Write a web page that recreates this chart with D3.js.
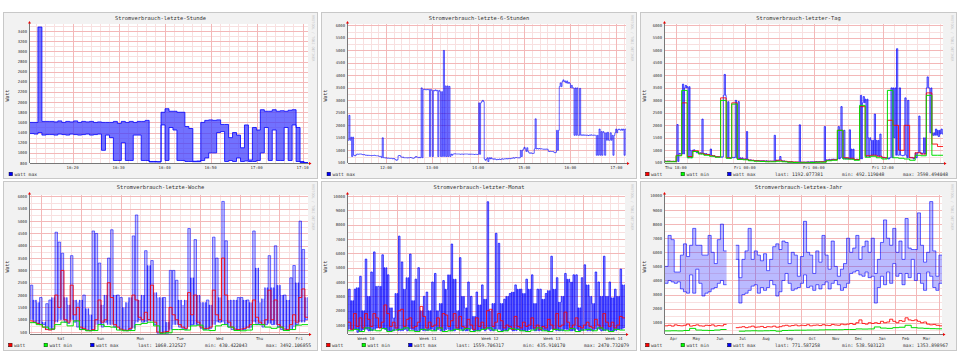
<!DOCTYPE html>
<html><head><meta charset="utf-8">
<script src="https://cdn.jsdelivr.net/npm/d3@7/dist/d3.min.js"></script>
<style>body{margin:0;background:#fff;} svg{display:block;}</style>
</head><body><svg id="c" width="960" height="360"></svg>
<script>
// ---------------- DATA ----------------
const titles = ["Stromverbrauch-letzte-Stunde","Stromverbrauch-letzte-6-Stunden","Stromverbrauch-letzter-Tag",
                "Stromverbrauch-letzte-Woche","Stromverbrauch-letzter-Monat","Stromverbrauch-letztes-Jahr"];
const seriesNames = ["watt","watt min","watt max"];
const axisLabel = "Watt";
const watermark = "RRDTOOL / TOBI OETIKER";

// watt max per time step: [low, high] of the step
const hourMax = [[1380,1600],[1370,1600],[1400,3480],[1350,1620],[1360,1620],
 [1360,1620],[1350,1610],[1370,1630],[1360,1600],[1350,1620],[1370,1610],[1360,1630],[1350,1600],[1360,1620],[1370,1610],[1350,1620],[1360,1600],[1370,1610],
 [1050,1600],[1350,1600],[1300,1600],[850,1620],[850,1580],[1200,1620],[850,1600],[850,1620],[1350,1600],[1350,1620],[850,1620],[850,1640],
 [820,830],[820,830],[820,825],[1550,1800],[850,1870],[1500,1820],[1450,1820],[850,1800],[850,1800],[830,1520],
 [830,1480],[825,835],[825,840],[850,1600],[900,1640],[1000,1650],[1000,1640],[1400,1650],[1420,1560],[830,1560],
 [850,1300],[830,1400],[900,1350],[830,1100],[840,1550],[830,860],[830,1500],[850,1450],[1000,1850],[1500,1820],
 [850,1820],[1450,1850],[850,1820],[850,1830],[1500,1820],[850,1840],[1550,1850],[830,1500],[810,830],[800,810]];

const sixHourMax = [[1400,2400],[750,1530],[780,800],[840,850],[850,850],[820,830],[800,810],[790,800],[780,790],[790,800],
 [780,780],[750,760],[700,1500],[690,700],[680,690],[670,680],[650,670],[600,620],[780,790],[720,730],
 [700,700],[690,700],[700,710],[680,690],[720,750],[700,720],[700,3500],[3430,3450],[3420,3440],[750,3440],
 [750,3400],[3380,3420],[750,3400],[750,3350],[750,5000],[750,3580],[750,3560],[800,850],[850,860],[850,850],
 [840,850],[840,850],[850,850],[840,850],[840,845],[830,840],[830,840],[840,2900],[2950,3000],[600,650],
 [550,700],[650,700],[640,660],[620,640],[630,650],[640,660],[650,660],[650,670],[660,680],[680,700],
 [700,710],[690,700],[750,1000],[1050,1120],[950,1100],[880,900],[870,880],[1050,2260],[1050,1070],[1050,1060],
 [1040,1050],[1040,1050],[950,960],[950,950],[900,920],[1000,1800],[3550,3700],[3750,3820],[3700,3780],[3680,3720],
 [3500,3600],[1600,3500],[1600,3500],[1600,3480],[1600,1620],[1600,1610],[1590,1610],[1600,1620],[1600,1610],[800,1600],
 [800,1850],[800,1750],[800,1700],[1400,1720],[1400,1700],[800,1600],[1700,1850],[1820,1850],[1800,1850],[800,1850]];

const dayMax = [[550,570],[560,570],[550,560],[550,560],[550,2030],[850,880],[850,3650],[3500,3600],[700,3550],[700,1000],
 [950,1020],[900,950],[880,900],[850,2250],[850,870],[820,840],[800,1050],[760,780],[740,750],[730,740],
 [720,740],[3200,4040],[700,2950],[680,700],[700,720],[700,3000],[650,2950],[650,700],[640,660],[620,1750],
 [600,620],[590,600],[580,590],[580,590],[570,580],[570,580],[560,580],[560,570],[560,570],[560,1600],
 [580,600],[600,750],[560,580],[540,550],[530,540],[530,540],[520,530],[520,530],[520,2020],[520,530],
 [520,530],[520,540],[530,540],[530,540],[530,550],[540,550],[540,550],[540,1950],[600,620],[600,640],
 [620,650],[630,650],[650,1950],[700,2750],[650,1800],[650,700],[650,1820],[650,1050],[620,640],[620,650],
 [650,3200],[2900,3150],[750,3050],[750,1500],[800,1400],[800,2450],[780,1400],[760,1650],[700,720],[680,700],
 [650,700],[700,3500],[1500,3500],[800,5070],[800,3500],[780,800],[800,3100],[700,3000],[700,720],[650,700],
 [700,900],[900,2370],[850,900],[850,1500],[3500,3940],[1700,3500],[1600,1700],[1600,1850],[1550,1800],[1650,1850]];
const dayAvg = [560,555,800,2900,750,980,880,830,780,740, 3100,700,2900,650,640,600,580,570,560,560,
 600,560,540,530,520,520,520,530,540,600, 620,1800,700,680,630,2750,780,800,760,700,
 2200,2000,1000,2000,700,900,850,3300,1250,1150];
const dayMin = [540,540,780,3400,700,950,850,800,760,720, 3000,680,2850,630,620,580,560,550,540,540,
 560,540,520,510,500,500,510,520,520,580, 600,1800,650,640,600,2800,720,760,700,650,
 3400,700,680,650,600,800,780,3200,800,800];

const weekMax = [[1000,2400],[900,1800],[850,1700],[800,1900],[800,900],[600,1650],[580,1800],[600,1900],[900,4550],[1000,4150],
 [1000,3700],[900,1900],[850,1600],[1000,3600],[900,1800],[700,1700],[600,1800],[600,2000],[560,1450],[550,1200],
 [550,4600],[800,4500],[800,3300],[700,1600],[900,2000],[800,3500],[800,4650],[700,2000],[650,2000],[580,1900],
 [560,1500],[550,1700],[600,1900],[650,4400],[900,5250],[1000,1800],[900,2000],[900,3800],[1000,3200],[950,3400],
 [800,2100],[450,1900],[430,1900],[450,1900],[450,900],[600,3000],[800,3000],[800,2600],[700,1800],[650,1600],
 [600,1800],[700,4700],[800,2700],[800,4250],[800,2000],[650,1700],[600,1700],[600,1800],[650,1600],[800,4350],
 [900,3500],[900,1900],[900,5800],[800,4200],[700,1800],[600,1800],[580,1800],[560,1900],[580,1900],[600,1800],
 [650,1800],[700,1700],[900,4600],[800,3100],[800,1700],[700,1850],[800,2300],[850,3600],[800,2300],[800,4000],
 [700,2400],[600,2000],[560,2000],[560,1800],[600,2700],[700,3200],[800,2500],[900,5000],[900,3850],[1000,1900]];
const weekAvg = [950,900,850,800,700,600,580,620,2000,1500, 3000,1000,900,2400,1200,1500,700,650,580,560,
 600,1000,1800,900,1000,2500,1900,800,700,620, 580,570,650,2000,1800,1100,1000,1300,1000,2400,
 900,500,480,500,520,1500,1200,1000,800,700, 650,2100,1200,2000,900,700,650,650,700,2200,
 1200,1000,3500,2000,900,700,620,600,620,650, 700,800,1800,1100,900,800,1000,2200,1000,1800,
 800,700,620,600,800,1200,900,1900,2250,1100];
const weekMin = [880,800,700,620,800,900,750,950,600,550, 560,800,720,700,580,550,560,800,850,900,
 750,450,470,600,600,580,750,780,580,560, 750,800,700,560,550,580,800,800,700,650, 700,560,600,780,800];

const monthMax = [[700,3500],[700,2700],[700,3500],[500,3600],[600,4400],[700,2000],[700,5600],[600,3000],[600,4700],[700,6100],
 [800,3700],[800,3700],[800,5900],[700,5000],[600,4500],[600,2200],[600,1500],[700,3200],[600,7200],[600,5400],
 [700,3500],[600,4300],[700,5950],[700,2700],[600,4200],[600,5000],[700,2000],[600,3000],[600,3300],[700,2000],
 [700,4000],[600,4600],[700,2000],[600,2500],[600,4100],[700,3500],[700,4500],[600,6650],[600,4200],[700,2000],
 [700,5700],[600,3000],[600,2200],[600,4000],[700,3000],[600,1600],[600,3300],[600,2400],[700,3800],[600,2800],
 [700,9600],[600,2000],[600,2500],[700,7400],[700,6700],[600,2500],[600,2800],[600,3000],[700,3200],[600,3300],
 [600,3800],[700,3500],[600,3500],[600,3200],[600,4200],[700,3500],[700,4500],[600,2500],[600,3500],[600,3500],
 [700,2800],[600,3200],[600,3400],[700,5800],[700,3500],[600,4300],[600,2600],[600,3000],[700,4600],[700,4200],
 [600,4000],[600,4500],[700,4500],[600,2200],[600,4300],[700,5200],[600,3800],[600,3000],[600,2500],[700,4700],
 [700,4000],[600,3000],[600,5800],[700,3000],[600,4000],[600,2900],[600,3500],[700,3000],[700,4900],[800,3800]];
const monthAvg = [1200,700,1800,900,1500,800,1800,1400,900,1800, 1500,800,1200,2400,1800,900,1200,800,2000,2100,
 900,1400,1500,800,900,1200,2300,1600,800,1200, 900,1000,1500,800,1800,1700,900,1300,1800,800,
 1600,900,800,1400,1000,700,1500,900,1200,800, 2000,2100,900,1200,1800,1300,800,1000,900,700,
 1600,900,800,1200,900,1000,1500,800,1000,700, 900,800,1400,1000,700,1800,900,1000,1900,1200,
 800,1000,1500,900,800,1000,1200,900,800,1400, 1000,800,1800,1200,900,1200,800,1000,1600,1500];
const monthMin = [600,700,550,800,650,600,750,550,650,700, 800,600,550,700,650,600,800,550,600,700,
 650,750,550,600,700,800,650,550,600,750, 700,600,550,650,800,600,550,700,650,600,
 750,550,650,700,600,800,650,550,700,650];

const yearMax = [[3800,5000],[4000,7200],[3900,6900],[3800,4600],[3900,4600],[3400,5800],[3200,6600],[3100,5700],[4400,6500],[3100,7700],
 [4800,6500],[3800,6500],[2900,5800],[3100,5800],[3200,7200],[3400,6000],[3500,5200],[3800,6900],[4000,8000],[3700,6100],
 null,null,null,[5500,6500],[2400,4200],[3000,5500],[3100,6100],[3300,7700],[3600,5500],[3700,6100],
 [3100,5800],[3500,5400],[3300,5900],[3500,4700],[4000,5500],[3700,6400],[2900,6600],[3200,6200],[4000,6800],[4500,6700],
 [3800,5200],[3300,6000],[3400,5800],[3500,4300],[3800,5700],[4400,8200],[3500,6000],[3600,5800],[3300,4500],[3700,6100],
 [3400,5300],[3700,7200],[3900,5800],[3400,4800],[3800,6800],[4000,5000],[3700,4300],[3300,4800],[3500,5200],[3800,7000],
 [4500,6000],[4600,6300],[4700,7200],[4400,5500],[4300,6400],[4600,6800],[4200,6000],[4300,7000],[2400,4500],[3500,5500],
 [4300,6700],[3700,8300],[4600,7000],[3800,6500],[5200,7700],[4300,6000],[4500,6800],[3700,5500],[4500,8400],[4200,6300],
 [5500,6200],[4000,6200],[4500,8800],[3800,6500],[3300,5300],[4600,6000],[4300,9600],[3500,6100],[3300,4300],[3800,5800]];
const yearAvg = [780,820,760,850,800,780,820,900,760,800, 850,780,760,820,800,850,760,800,780,880,
 null,null,null,650,680,720,650,700,760,680, 700,740,660,720,700,760,680,720,780,820,
 760,800,840,780,820,800,860,780,820,840, 800,860,820,800,880,840,820,900,860,900,
 950,880,1000,1200,950,900,1000,950,1000,950, 1100,1000,1050,1250,1100,1000,1150,1100,1350,1200,
 1150,1200,1100,1000,1050,900,850,880,820,780];
const yearMin = [420,430,420,450,600,480,460,450,480,520, null,null,400,420,430,420,430,440,400,450,
 460,470,470,480,480,490,500,500,500,520, 520,560,550,560,700,620,600,650,680,820, 650,620,600,580,570];

// tick labels
const hourTickLabels = ["16:20","16:30","16:40","16:50","17:00","17:10"];
const sixHourTickLabels = ["12:00","13:00","14:00","15:00","16:00","17:00"];
const dayTickLabels = ["Thu 18:00","Fri 00:00","Fri 06:00","Fri 12:00"];
const weekTickLabels = ["Sat","Sun","Mon","Tue","Wed","Thu","Fri"];
const monthTickLabels = ["Week 10","Week 11","Week 12","Week 13","Week 14"];
const yearTickLabels = ["Apr","May","Jun","Jul","Aug","Sep","Oct","Nov","Dec","Jan","Feb","Mar"];

const hourYTicks = [800,1000,1200,1400,1600,1800,2000,2200,2400,2600,2800,3000,3200,3400];
const kwYTicks = [500,1000,1500,2000,2500,3000,3500,4000,4500,5000,5500,6000];
const bigYTicks = [1000,2000,3000,4000,5000,6000,7000,8000,9000,10000];

const dayStats = ["last: 1192.077381","min: 492.119048","max: 3598.494048"];
const weekStats = ["last: 1068.232527","min: 430.422043","max: 3492.106855"];
const monthStats = ["last: 1559.706317","min: 435.910170","max: 2470.732079"];
const yearStats = ["last: 771.587258","min: 538.503123","max: 1353.898967"];

// ---------------- HELPERS ----------------
const D = (y, mo, d, h = 0, mi = 0, s = 0) => new Date(y, mo - 1, d, h, mi, s);
const hm = (day, l) => D(2011, 4, day, +l.slice(0, 2), +l.slice(3, 5));
const hourTickTimes = hourTickLabels.map(l => hm(8, l));
const sixHourTickTimes = sixHourTickLabels.map(l => hm(8, l));
const dayTickTimes = [D(2011,4,7,18), D(2011,4,8,0), D(2011,4,8,6), D(2011,4,8,12)];
const weekTickTimes = weekTickLabels.map((l, i) => D(2011, 4, 2 + i, 12));
const monthTickTimes = monthTickLabels.map((l, i) => D(2011, 3, 10 + 7 * i, 12));
const yearTickTimes = yearTickLabels.map((l, i) => D(2010, 4 + i, 15, 12));

const COL = { watt: "#ff0000", min: "#00dd00", max: "#0000ff" };
const FONT = '"DejaVu Sans Mono","Liberation Mono",monospace';
const GRID_MINOR = "#f8e0e0", GRID_MAJOR = "#f3b8b8";

const topRow = { fy: 12, fh: 167, py0: 24, py1: 163 };
const botRow = { fy: 181, fh: 170, py0: 195, py1: 334 };

const panels = [
 Object.assign({ title: titles[0], fx: 3, fw: 315, px0: 30, px1: 308,
   t0: D(2011,4,8,16,10,45), t1: D(2011,4,8,17,11,10), yDomain: [800, 3540], yTicks: hourYTicks, minorY: 100,
   xTicks: hourTickTimes, xLabels: hourTickLabels, minorX: d3.timeMinute.every(2), majorX: d3.timeMinute.every(10),
   max: hourMax, fillOp: 0.72, lineOp: 0.8, spike: 0, stats: null }, topRow),
 Object.assign({ title: titles[1], fx: 321, fw: 316, px0: 348, px1: 626,
   t0: D(2011,4,8,11,10,30), t1: D(2011,4,8,17,12,36), yDomain: [490, 6060], yTicks: kwYTicks, minorY: 250,
   xTicks: sixHourTickTimes, xLabels: sixHourTickLabels, minorX: d3.timeMinute.every(10), majorX: d3.timeHour,
   max: sixHourMax, fillOp: 0.3, lineOp: 0.6, spike: 0.4, stats: null }, topRow),
 Object.assign({ title: titles[2], fx: 640, fw: 317, px0: 665, px1: 943,
   t0: D(2011,4,7,17,4), t1: D(2011,4,8,17,14), yDomain: [490, 6060], yTicks: kwYTicks, minorY: 250,
   xTicks: dayTickTimes, xLabels: dayTickLabels, minorX: d3.timeHour, majorX: d3.timeHour.every(6),
   max: dayMax, avg: dayAvg, min: dayMin, fillOp: 0.35, lineOp: 0.7, spike: 0.45, stats: dayStats }, topRow),
 Object.assign({ title: titles[3], fx: 3, fw: 315, px0: 30, px1: 308,
   t0: D(2011,4,1,17,18), t1: D(2011,4,8,17,18), yDomain: [420, 6060], yTicks: kwYTicks, minorY: 250,
   xTicks: weekTickTimes, xLabels: weekTickLabels, minorX: d3.timeHour.every(6), majorX: d3.timeDay,
   max: weekMax, avg: weekAvg, min: weekMin, fillOp: 0.32, lineOp: 0.55, spike: 0.8, stats: weekStats }, botRow),
 Object.assign({ title: titles[4], fx: 321, fw: 316, px0: 348, px1: 625,
   t0: D(2011,3,8,11,14), t1: D(2011,4,8,17,44), yDomain: [375, 10070], yTicks: bigYTicks, minorY: 500,
   xTicks: monthTickTimes, xLabels: monthTickLabels, minorX: d3.timeDay, majorX: d3.timeMonday,
   max: monthMax, avg: monthAvg, min: monthMin, fillOp: 0.5, lineOp: 0.7, spike: 0.55, stats: monthStats }, botRow),
 Object.assign({ title: titles[5], fx: 640, fw: 317, px0: 665, px1: 942,
   t0: D(2010,4,4,0), t1: D(2011,4,4,16), yDomain: [200, 10070], yTicks: bigYTicks, minorY: 500,
   xTicks: yearTickTimes, xLabels: yearTickLabels, minorX: null, majorX: d3.timeMonth,
   max: yearMax, avg: yearAvg, min: yearMin, fillOp: 0.35, lineOp: 0.6, spike: 0, stats: yearStats }, botRow)
];

const svg = d3.select("#c");

// single-valued step series
function stepPoints(arr, t0, t1) {
  const n = arr.length, dt = (t1 - t0) / n, pts = [];
  arr.forEach((v, i) => {
    pts.push({ t: new Date(+t0 + i * dt), v }, { t: new Date(+t0 + (i + 1) * dt), v });
  });
  return pts;
}
// [low, high] step series -> points with v = [areaLow, areaHigh, lineA, lineB]
function rangePoints(arr, t0, t1, f) {
  const n = arr.length, dt = (t1 - t0) / n, pts = [];
  const mid = d => (d[0] + d[1]) / 2;
  arr.forEach((v, i) => {
    const ta = +t0 + i * dt, tb = ta + dt;
    if (!v) { pts.push({ t: new Date(ta), v: null }, { t: new Date(tb), v: null }); return; }
    if (!f) {
      pts.push({ t: new Date(ta), v: [v[0], v[1], v[0], v[1]] }, { t: new Date(tb), v: [v[0], v[1], v[0], v[1]] });
      return;
    }
    const nb = [arr[i - 1], arr[i + 1]].filter(Boolean).map(mid);
    const ref = nb.length ? d3.mean(nb) : mid(v);
    const briefHi = (v[1] - ref) >= (ref - v[0]);
    const base = briefHi ? v[0] : v[1], brief = briefHi ? v[1] : v[0];
    const w0 = ta + (1 - f) / 2 * dt, w1 = w0 + f * dt;
    const B = [base, base, base, base], S = [v[0], v[1], brief, brief];
    pts.push({ t: new Date(ta), v: B }, { t: new Date(w0), v: B }, { t: new Date(w0), v: S },
             { t: new Date(w1), v: S }, { t: new Date(w1), v: B }, { t: new Date(tb), v: B });
  });
  return pts;
}

panels.forEach((p, k) => {
  const g = svg.append("g");
  const x = d3.scaleTime().domain([p.t0, p.t1]).range([p.px0, p.px1]);
  const y = d3.scaleLinear().domain(p.yDomain).range([p.py1, p.py0]);
  const snap = v => Math.round(v) + 0.5;

  // frame
  g.append("rect").attr("x", p.fx + 0.5).attr("y", p.fy + 0.5).attr("width", p.fw - 1).attr("height", p.fh - 1)
    .attr("fill", "#f2f2f2").attr("stroke", "#c8c8c8");
  // title
  g.append("text").attr("x", p.fx + p.fw / 2).attr("y", p.fy + 5.5).attr("text-anchor", "middle")
    .attr("dominant-baseline", "central").attr("font-family", FONT).attr("font-size", 5.4).attr("fill", "#333")
    .text(p.title);
  // watermark
  g.append("text").attr("transform", `translate(${p.fx + p.fw - 5},${p.fy + 3}) rotate(90)`)
    .attr("dominant-baseline", "central").attr("font-family", FONT).attr("font-size", 3.5).attr("fill", "#c4c4c4")
    .text(watermark);
  // canvas
  g.append("rect").attr("x", p.px0).attr("y", p.py0).attr("width", p.px1 - p.px0).attr("height", p.py1 - p.py0)
    .attr("fill", "#fff");

  const grid = g.append("g").attr("stroke-width", 1).attr("fill", "none");
  if (p.minorX) p.minorX.range(p.t0, p.t1).forEach(t => {
    grid.append("line").attr("x1", snap(x(t))).attr("x2", snap(x(t))).attr("y1", p.py0).attr("y2", p.py1).attr("stroke", GRID_MINOR);
  });
  const ys = Math.ceil(p.yDomain[0] / p.minorY) * p.minorY;
  d3.range(ys, p.yDomain[1], p.minorY).forEach(v => {
    grid.append("line").attr("x1", p.px0).attr("x2", p.px1).attr("y1", snap(y(v))).attr("y2", snap(y(v))).attr("stroke", GRID_MINOR);
  });
  p.majorX.range(p.t0, p.t1).forEach(t => {
    grid.append("line").attr("x1", snap(x(t))).attr("x2", snap(x(t))).attr("y1", p.py0).attr("y2", p.py1).attr("stroke", GRID_MAJOR);
  });
  p.yTicks.forEach(v => {
    grid.append("line").attr("x1", p.px0).attr("x2", p.px1).attr("y1", snap(y(v))).attr("y2", snap(y(v))).attr("stroke", GRID_MAJOR);
  });

  // series
  const clipId = "clip" + k;
  g.append("clipPath").attr("id", clipId).append("rect").attr("x", p.px0).attr("y", p.py0 - 1)
    .attr("width", p.px1 - p.px0).attr("height", p.py1 - p.py0 + 1);
  const sg = g.append("g").attr("clip-path", `url(#${clipId})`);

  const mp = rangePoints(p.max, p.t0, p.t1, p.spike);
  const area = d3.area().defined(d => d.v != null).x(d => x(d.t)).y0(d => y(d.v[0])).y1(d => y(d.v[1]));
  sg.append("path").attr("d", area(mp)).attr("fill", "#3a3aff").attr("fill-opacity", p.fillOp);
  (p.spike ? [2] : [2, 3]).forEach(j => {
    const ln = d3.line().defined(d => d.v != null).x(d => x(d.t)).y(d => y(d.v[j]));
    sg.append("path").attr("d", ln(mp)).attr("fill", "none").attr("stroke", COL.max).attr("stroke-width", 1).attr("stroke-opacity", p.lineOp);
  });
  const single = d3.line().defined(d => d.v != null).x(d => x(d.t)).y(d => y(d.v));
  if (p.avg) sg.append("path").attr("d", single(stepPoints(p.avg, p.t0, p.t1))).attr("fill", "none")
    .attr("stroke", COL.watt).attr("stroke-width", 1).attr("stroke-opacity", 0.85);
  if (p.min) sg.append("path").attr("d", single(stepPoints(p.min, p.t0, p.t1))).attr("fill", "none")
    .attr("stroke", COL.min).attr("stroke-width", 1);

  // axes
  g.append("line").attr("x1", p.px0).attr("x2", p.px1 + 2).attr("y1", p.py1 + 0.5).attr("y2", p.py1 + 0.5).attr("stroke", "#777");
  g.append("line").attr("x1", p.px0 - 0.5).attr("x2", p.px0 - 0.5).attr("y1", p.py1).attr("y2", p.py0 - 1).attr("stroke", "#777");
  g.append("path").attr("d", `M${p.px1 + 1},${p.py1 - 1}L${p.px1 + 3.5},${p.py1 + 0.5}L${p.px1 + 1},${p.py1 + 2}Z`).attr("fill", "#e00");
  g.append("path").attr("d", `M${p.px0 - 2},${p.py0 - 0.5}L${p.px0 - 0.5},${p.py0 - 3}L${p.px0 + 1},${p.py0 - 0.5}Z`).attr("fill", "#e00");

  // tick labels
  p.yTicks.forEach(v => {
    g.append("text").attr("x", p.px0 - 3).attr("y", y(v)).attr("text-anchor", "end").attr("dominant-baseline", "central")
      .attr("font-family", FONT).attr("font-size", 3.9).attr("fill", "#333").text(v);
  });
  p.xTicks.forEach((t, i) => {
    g.append("text").attr("x", x(t)).attr("y", p.py1 + 4).attr("text-anchor", "middle").attr("dominant-baseline", "central")
      .attr("font-family", FONT).attr("font-size", 4).attr("fill", "#333").text(p.xLabels[i]);
  });
  // y axis label
  g.append("text").attr("transform", `translate(${p.fx + 3.8},${(p.py0 + p.py1) / 2 + 2}) rotate(-90)`)
    .attr("text-anchor", "middle").attr("dominant-baseline", "central")
    .attr("font-family", FONT).attr("font-size", 5).attr("fill", "#333").text(axisLabel);

  // legend
  const ly = p.py1 + 11;
  const legItem = (sx, tx, col, label) => {
    g.append("rect").attr("x", p.fx + sx).attr("y", ly - 1.8).attr("width", 3.6).attr("height", 3.6)
      .attr("fill", col).attr("stroke", "#000").attr("stroke-width", 0.4);
    g.append("text").attr("x", p.fx + tx).attr("y", ly).attr("dominant-baseline", "central")
      .attr("font-family", FONT).attr("font-size", 4.7).attr("fill", "#333").text(label);
  };
  if (!p.stats) {
    legItem(6, 11.5, COL.max, seriesNames[2]);
  } else {
    legItem(5.5, 11, COL.watt, seriesNames[0]);
    legItem(41, 46.5, "#00ff00", seriesNames[1]);
    legItem(87.5, 93, COL.max, seriesNames[2]);
    [135, 202, 263].forEach((ox, i) => {
      g.append("text").attr("x", p.fx + ox).attr("y", ly).attr("dominant-baseline", "central")
        .attr("font-family", FONT).attr("font-size", 4.7).attr("fill", "#333").text(p.stats[i]);
    });
  }
});
</script></body></html>
